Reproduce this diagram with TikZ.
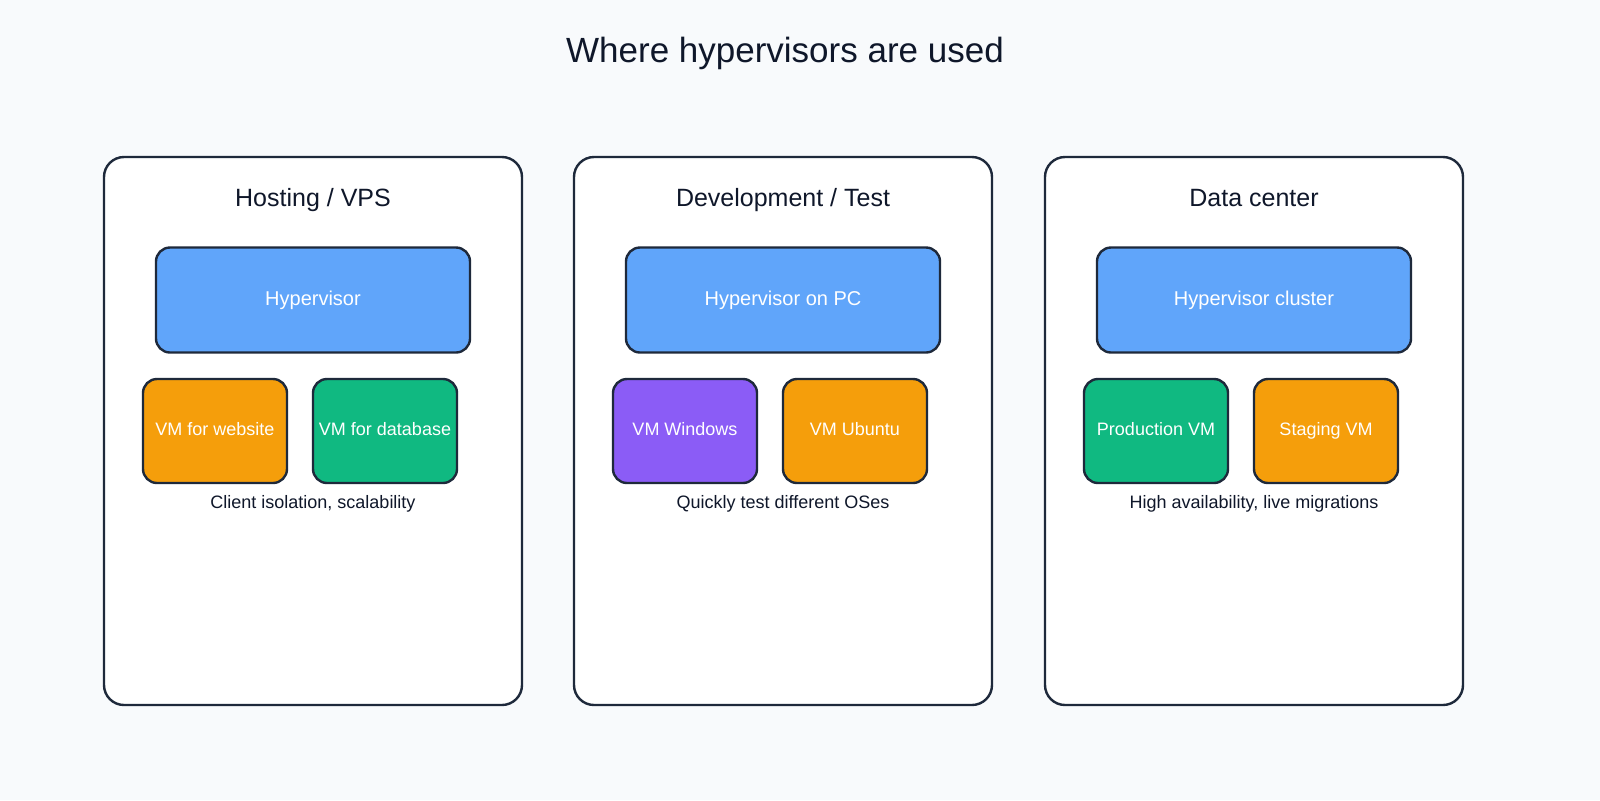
\documentclass[tikz,border=0pt]{standalone}
\usepackage{fontspec}
\setmainfont{Liberation Sans}
\usetikzlibrary{positioning}
\definecolor{bgcol}{HTML}{F8FAFC}
\definecolor{inkcol}{HTML}{0F172A}
\definecolor{edgecol}{HTML}{1E293B}
\definecolor{hypcol}{HTML}{60A5FA}
\definecolor{orgcol}{HTML}{F59E0B}
\definecolor{grncol}{HTML}{10B981}
\definecolor{prpcol}{HTML}{8B5CF6}
\tikzset{
  panel/.style={draw=edgecol,fill=white,line width=1.2pt,rounded corners=10pt,minimum width=209pt,minimum height=274pt,inner sep=0pt},
  hyp/.style={draw=edgecol,fill=hypcol,line width=1.2pt,rounded corners=7pt,minimum width=157pt,minimum height=52.5pt,text=white,font=\fontsize{10}{12}\selectfont},
  vm/.style={draw=edgecol,line width=1.2pt,rounded corners=7pt,minimum width=72pt,minimum height=52pt,inner sep=0pt,text height=6.5pt,text depth=2pt,text=white,font=\fontsize{9}{11}\selectfont},
  ptitle/.style={text=inkcol,text height=9pt,text depth=2.5pt,font=\fontsize{12.5}{15}\selectfont},
  caption/.style={text=inkcol,font=\fontsize{9}{11}\selectfont}
}
\begin{document}
\begin{tikzpicture}[x=0.5pt,y=-0.5pt]
  \useasboundingbox (0,0) rectangle (1600,800);
  \fill[bgcol] (0,0) rectangle (1600,800);
  \node[text=inkcol,font=\fontsize{17.5}{21}\selectfont] (title) at (785,53) {Where hypervisors are used};
  \foreach \i/\x/\name/\hname/\va/\ca/\vb/\cb/\cap in {
      a/104/{Hosting / VPS}/Hypervisor/VM for website/orgcol/VM for database/grncol/{Client isolation, scalability},
      b/574/{Development / Test}/Hypervisor on PC/VM Windows/prpcol/VM Ubuntu/orgcol/Quickly test different OSes,
      c/1045/Data center/Hypervisor cluster/Production VM/grncol/Staging VM/orgcol/{High availability, live migrations}}{
    \node[panel] (panel\i) at (\x+209,431) {};
    \node[ptitle] (ptitle\i) at (\x+209,200) {\name};
    \node[hyp] (hyp\i) at (\x+209,300) {\hname};
    \node[vm,fill=\ca] (vma\i) at (\x+111,431) {\va};
    \node[vm,fill=\cb] (vmb\i) at (\x+281,431) {\vb};
    \node[caption] (cap\i) at (\x+209,504) {\cap};
  }
\end{tikzpicture}
\end{document}
